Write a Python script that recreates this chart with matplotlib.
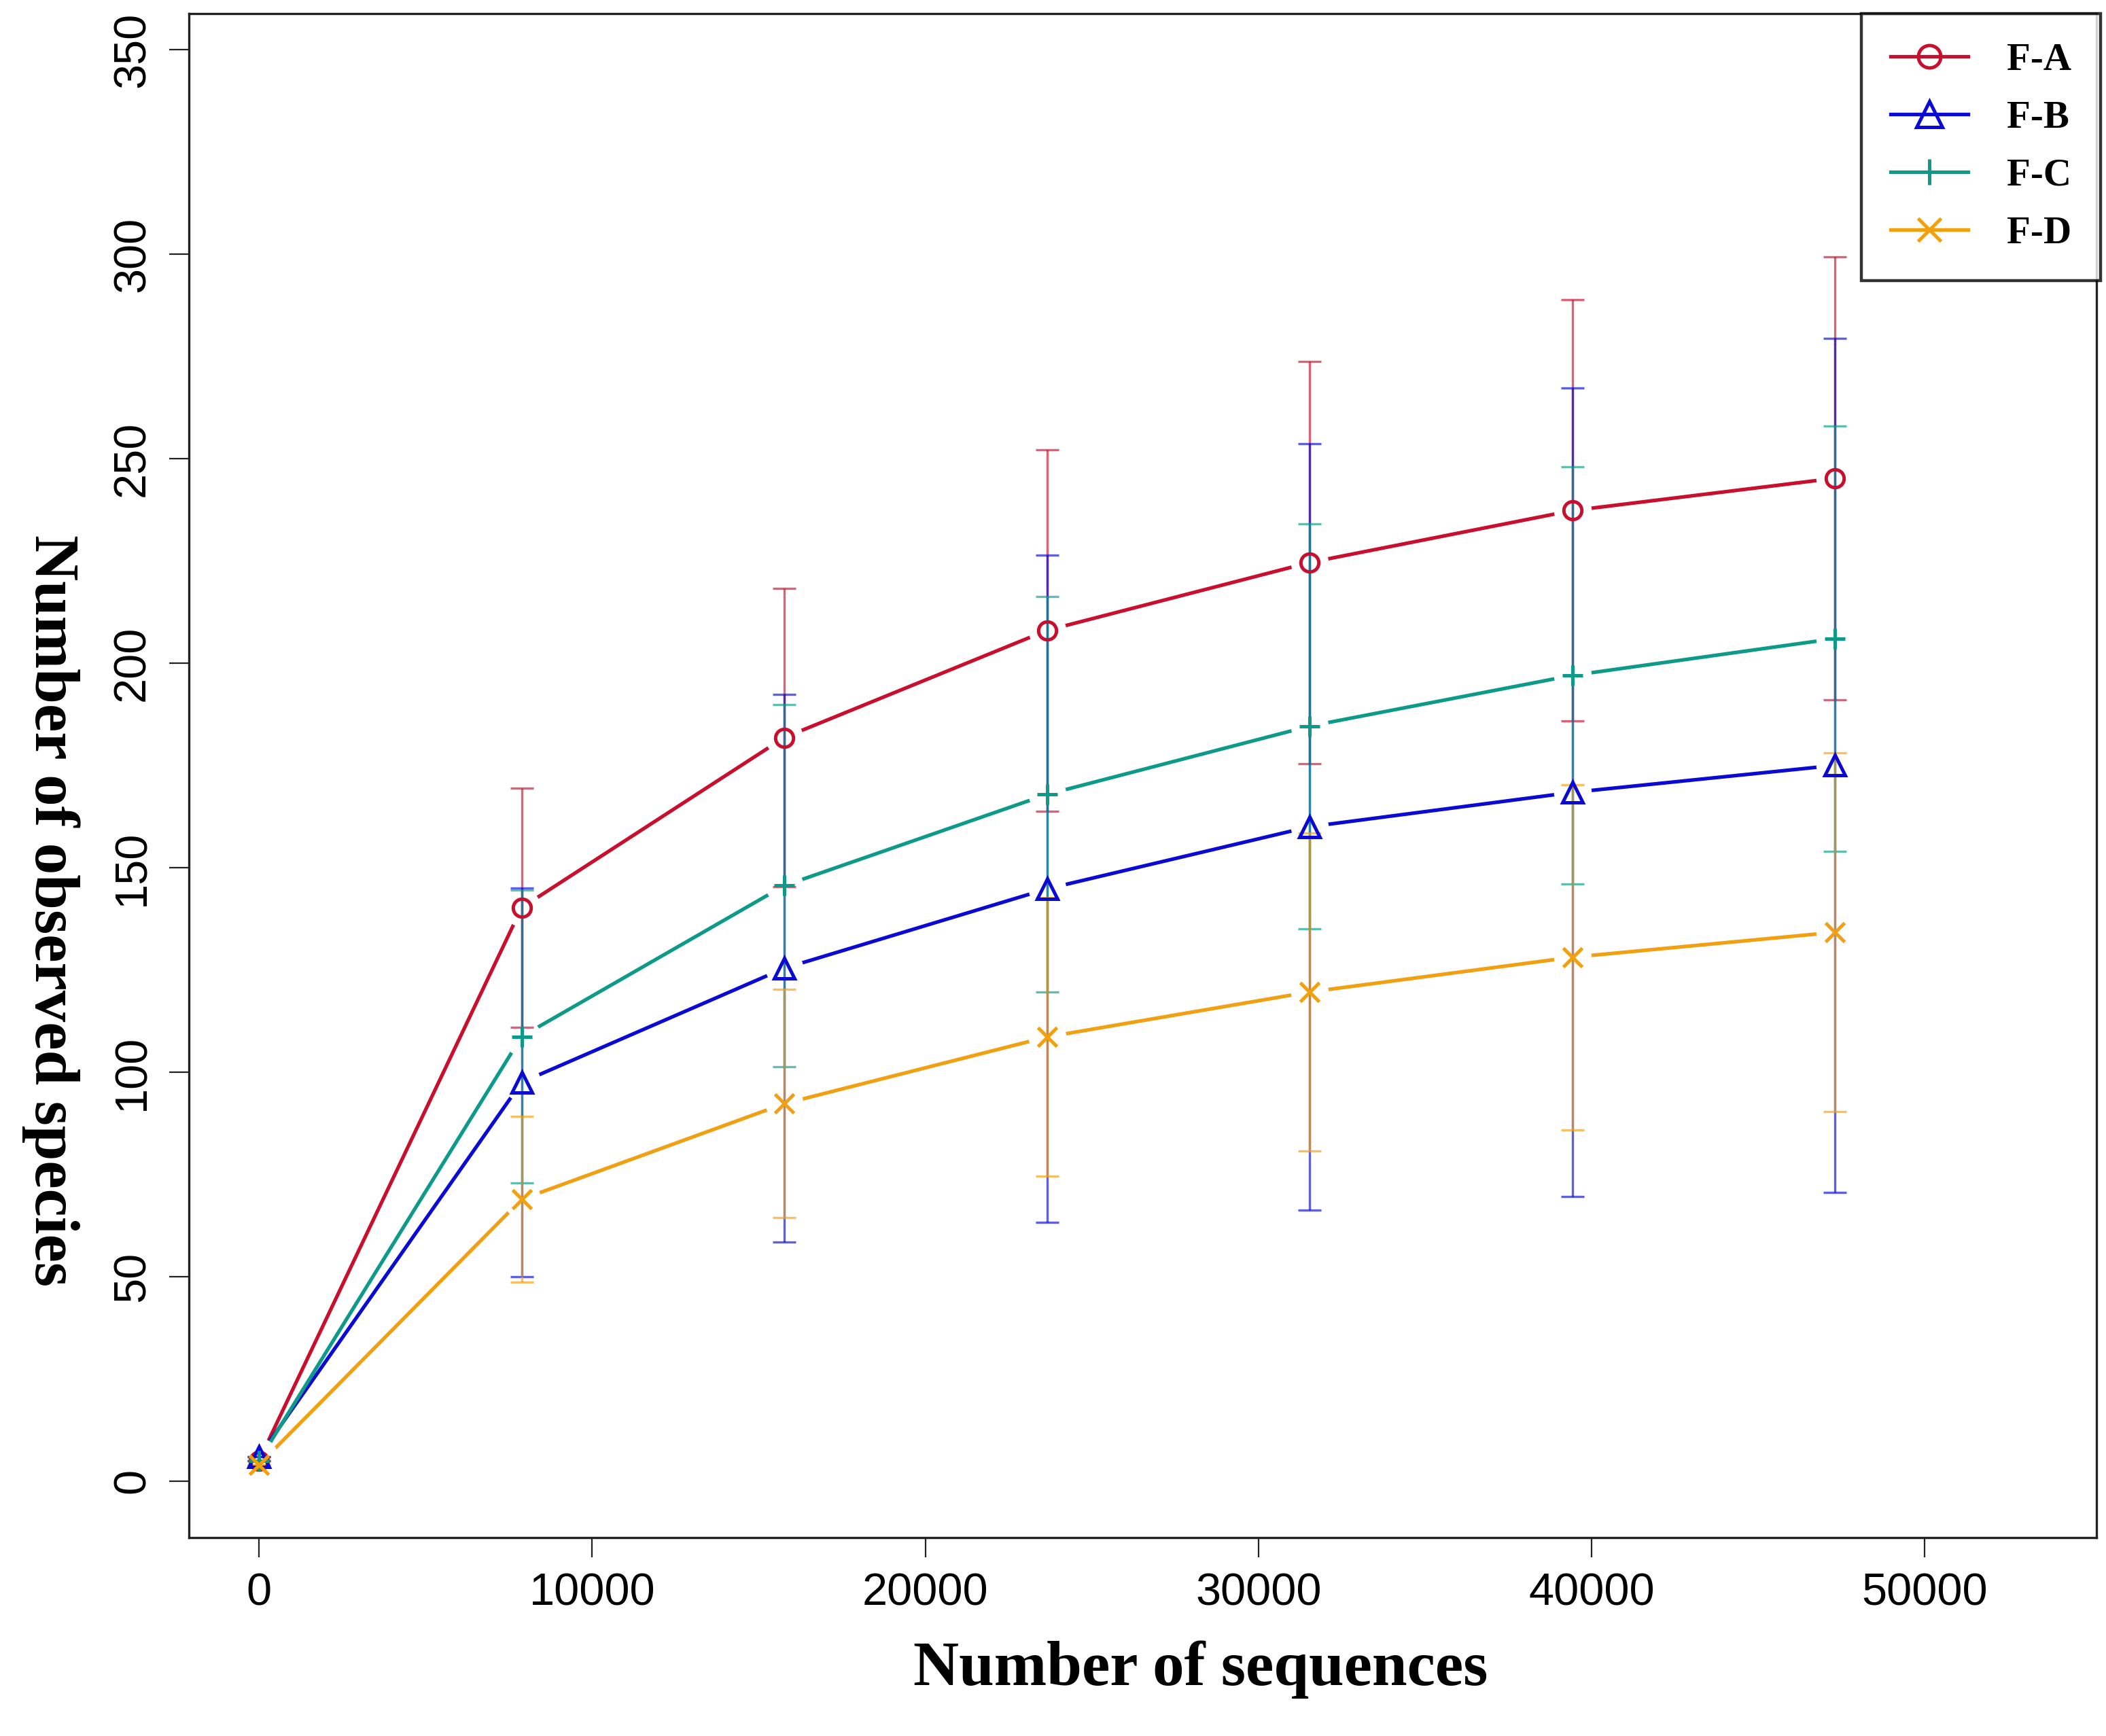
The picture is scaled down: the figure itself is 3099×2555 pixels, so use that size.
import matplotlib
matplotlib.use("Agg")
import matplotlib.pyplot as plt
from matplotlib.lines import Line2D

# ---- data ----
seqs = [0, 7884, 15768, 23652, 31536, 39420, 47304]
series_names = ["F-A", "F-B", "F-C", "F-D"]
fa_mean = [5, 140.2, 181.8, 208.0, 224.6, 237.3, 245.2]
fa_err = [0, 29.3, 36.5, 44.2, 49.2, 51.5, 54.2]
fb_mean = [6, 97.5, 125.4, 144.8, 160.0, 168.4, 175.0]
fb_err = [0, 47.5, 67.0, 81.6, 93.7, 98.8, 104.4]
fc_mean = [5, 108.7, 145.6, 167.9, 184.6, 197.0, 206.0]
fc_err = [0, 35.8, 44.2, 48.3, 49.5, 51.0, 52.0]
fd_mean = [4, 68.9, 92.3, 108.6, 119.6, 128.1, 134.2]
fd_err = [0, 20.3, 27.9, 34.0, 38.9, 42.2, 43.8]
x_ticks = [0, 10000, 20000, 30000, 40000, 50000]
y_ticks = [0, 50, 100, 150, 200, 250, 300, 350]

means = [fa_mean, fb_mean, fc_mean, fd_mean]
errs = [fa_err, fb_err, fc_err, fd_err]
colors = ["#C8102E", "#0A0AD2", "#0E9A88", "#F0A010"]
markers = ["o", "^", "+", "x"]
msizes = [19, 22, 22, 20]

SERIF = ["Liberation Serif", "DejaVu Serif"]
SANS = ["Liberation Sans", "DejaVu Sans"]

fig = plt.figure(figsize=(30.99, 25.55), dpi=100)
ax = fig.add_axes([278/3099, 1 - 2263/2555, (3085 - 278)/3099, (2263 - 20)/2555])

for m, c in zip(means, colors):
    ax.plot(seqs, m, color=c, lw=3.8, zorder=2, solid_capstyle="butt")
    ax.plot(seqs, m, ls="none", marker="o", ms=40, color="white", mec="none", zorder=2.5)
for m, e, c in zip(means, errs, colors):
    ax.errorbar(seqs, m, yerr=e, fmt="none", ecolor=c, elinewidth=2.4,
                capsize=12, capthick=2.4, alpha=0.65, zorder=3)
for m, c, mk, ms in zip(means, colors, markers, msizes):
    ax.plot(seqs, m, ls="none", marker=mk, ms=ms, mfc="none", mec=c, mew=3.6, zorder=4)

ax.set_xlim(-2100, 55150)
ax.set_ylim(-13.8, 358.8)
ax.set_xticks(x_ticks)
ax.set_yticks(y_ticks)
ax.set_xticklabels([str(v) for v in x_ticks], fontfamily=SANS, fontsize=48)
ax.set_yticklabels([str(v) for v in y_ticks], fontfamily=SANS, fontsize=48,
                   rotation=90, va="center")
ax.tick_params(axis="both", direction="out", length=21, width=1.6, color="#222222", pad=16)

for sp in ax.spines.values():
    sp.set_linewidth(2.4)
    sp.set_color("#222222")

fig.text(0.570, 1 - 2480/2555, "Number of sequences", fontfamily=SERIF, fontweight="bold",
         fontsize=67, ha="center", va="baseline")
fig.text(0.0242, 0.4755, "Number of observed species", fontfamily=SERIF, fontweight="bold",
         fontsize=67, rotation=270, ha="center", va="center")

handles = [Line2D([], [], color=c, lw=3.8, marker=mk, ms=ms, mfc="none", mec=c, mew=3.6)
           for c, mk, ms in zip(colors, markers, msizes)]
leg = ax.legend(handles, series_names, loc="upper right", bbox_to_anchor=(1.002, 1.0),
                borderaxespad=0, frameon=True, fancybox=False, edgecolor="black",
                prop={"family": SERIF, "weight": "bold", "size": 41},
                handlelength=2.0, handletextpad=1.0, labelspacing=0.58,
                borderpad=0.75, markerscale=1.25)
leg.get_frame().set_linewidth(3.2)
leg.set_zorder(10)

fig.savefig("out.png", dpi=100, facecolor="white")
